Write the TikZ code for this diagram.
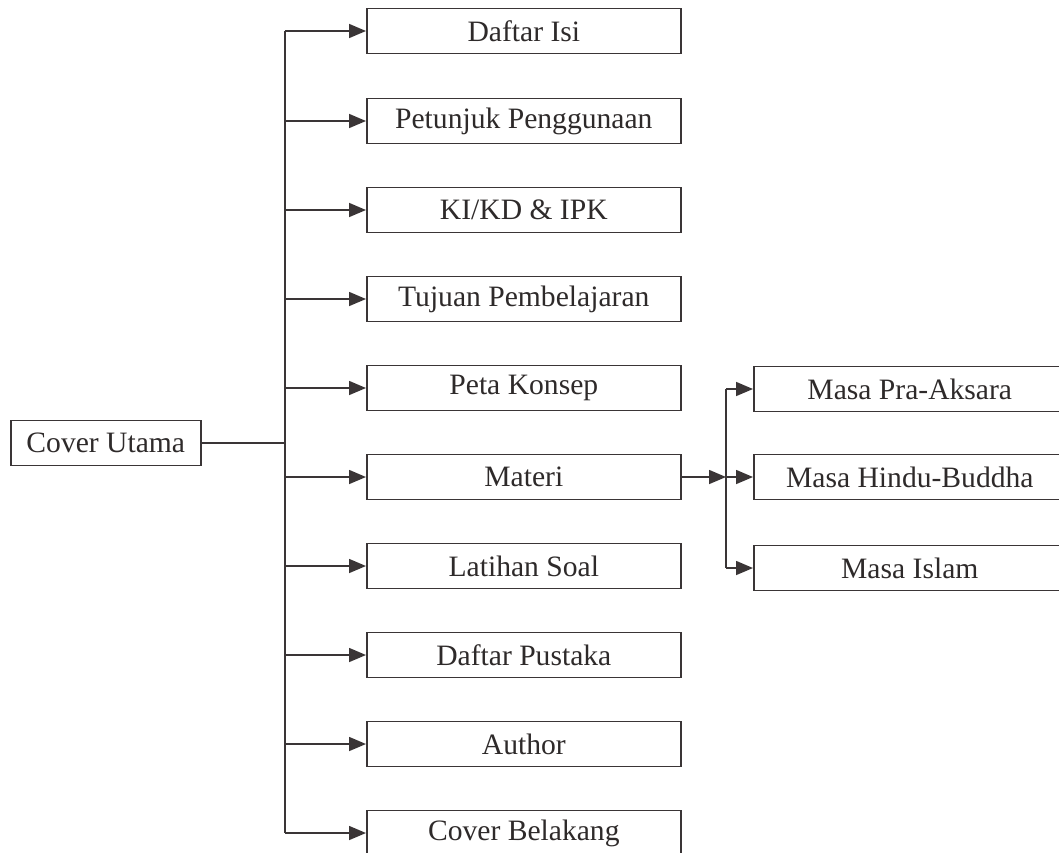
\documentclass[tikz,border=0pt]{standalone}
\usepackage{fontspec}
\setmainfont{Liberation Serif}
\usetikzlibrary{arrows.meta}
\definecolor{ln}{HTML}{3A3536}
\definecolor{tx}{HTML}{2E2A2A}
\begin{document}
\begin{tikzpicture}[x=1pt,y=-1pt,
  box/.style={draw=ln,line width=1.6pt,minimum width=314pt,minimum height=45pt,inner sep=0pt,font=\fontsize{29.6}{32}\selectfont,text=tx,anchor=west},
  sbox/.style={box,minimum width=312pt},
  con/.style={draw=ln,line width=1.6pt},
  arr/.style={con,-{Triangle[length=17pt,width=14pt]}}]
\clip (0,0) rectangle (1059,852);
\node[box,minimum width=190pt] (cu) at (10,443) {Cover Utama};
\node[box] (b1) at (366,31) {Daftar Isi};
\node[box] (b2) at (366,121) {Petunjuk Penggunaan};
\node[box] (b3) at (366,210) {KI/KD \& IPK};
\node[box] (b4) at (366,299) {Tujuan Pembelajaran};
\node[box] (b5) at (366,388) {Peta Konsep};
\node[box] (b6) at (366,477) {Materi};
\node[box] (b7) at (366,566) {Latihan Soal};
\node[box] (b8) at (366,655) {Daftar Pustaka};
\node[box] (b9) at (366,744) {Author};
\node[box] (b10) at (366,833) {Cover Belakang};
\node[sbox] (m1) at (753,389) {Masa Pra-Aksara};
\node[sbox] (m2) at (753,477) {Masa Hindu-Buddha};
\node[sbox] (m3) at (753,568) {Masa Islam};
\coordinate (t) at (285,443);
\coordinate (t2) at (726,477);
\draw[con] (cu.east) -- (t);
\draw[con] (t |- b1.west) -- (t |- b10.west);
\foreach \b in {b1,b2,b3,b4,b5,b6,b7,b8,b9,b10}
  \draw[arr] (t |- \b.west) -- (\b.west);
\draw[arr] (b6.east) -- (t2);
\draw[con] (t2 |- m1.west) -- (t2 |- m3.west);
\foreach \m in {m1,m2,m3}
  \draw[arr] (t2 |- \m.west) -- (\m.west);
\end{tikzpicture}
\end{document}
